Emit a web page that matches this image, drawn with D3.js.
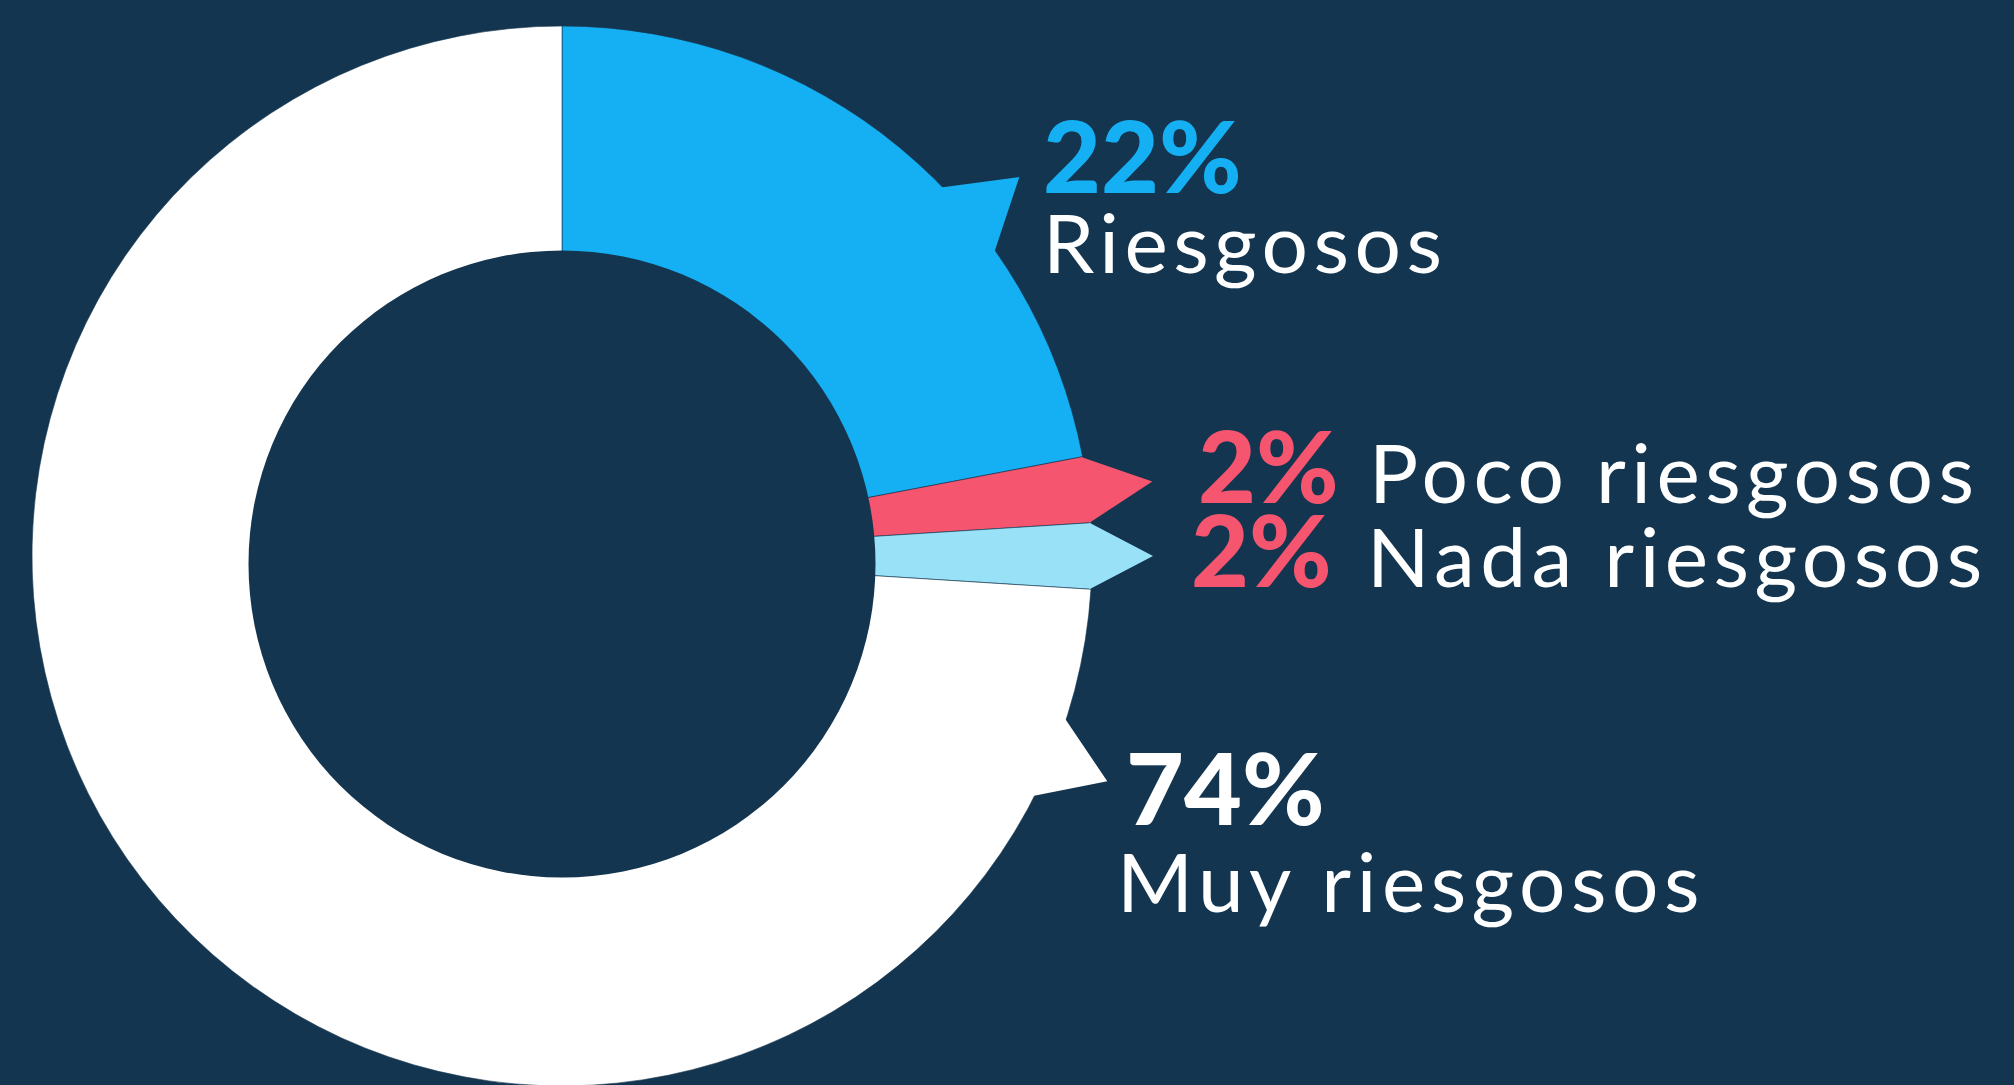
<!DOCTYPE html>
<html>
<head>
<meta charset="utf-8">
<script src="https://d3js.org/d3.v7.min.js"></script>
<style>
  html, body { margin: 0; padding: 0; background: #14354f; overflow: hidden; }
  .pct { font-family: Lato, "Open Sans", sans-serif; font-weight: 900; }
  .name { font-family: Lato, "Open Sans", sans-serif; font-weight: 400; fill: #ffffff; }
</style>
</head>
<body>
<div id="vis"></div>
<script>
// Data
var categories = ['Riesgosos', 'Poco riesgosos', 'Nada riesgosos', 'Muy riesgosos'];
var values = [22, 2, 2, 74];
var sliceColors = ['#15b0f4', '#f5556f', '#98e1f6', '#ffffff'];
var pctColors = ['#15b0f4', '#f5556f', '#f5556f', '#ffffff'];

// Sizing
var width = 2014;
var height = 1085;
var center = { x: 562, y: 556 };
var outerR = 530;
// the hole in the original sits a little lower than the ring's centre
var hole = { x: 562, y: 564, r: 313.5 };
var bg = '#14354f';

// Little arrow on the rim of each slice. span in degrees (null = whole slice),
// tip is the radius of the point.
var pointerSpan = [[45.8, 54.9], null, null, [107.9, 117.0]];
var pointerTip = [594, 595, 591, 590];

// Label anchors (percent and name), baseline positions
var pctPos = [[1043, 193], [1198, 503], [1191, 587], [1126, 825]];
var namePos = [[1043, 273], [1369, 503], [1367, 587], [1117, 912]];

var svg = d3.select('#vis')
  .append('svg')
  .attr('width', width)
  .attr('height', height);

svg.append('rect')
  .attr('width', width)
  .attr('height', height)
  .attr('fill', bg);

var pie = d3.pie()
  .sort(null)
  .value(function (d) { return d; });

var arc = d3.arc()
  .innerRadius(0)
  .outerRadius(outerR);

var arcs = pie(values);

var g = svg.append('g')
  .attr('transform', 'translate(' + center.x + ',' + center.y + ')');

g.selectAll('.slice')
  .data(arcs)
  .enter().append('path')
  .attr('class', 'slice')
  .attr('d', arc)
  .attr('fill', function (d, i) { return sliceColors[i]; })
  .attr('stroke', bg)
  .attr('stroke-width', 0.6);

// pointers: triangle from two rim points to a tip at the mid angle
var rad = Math.PI / 180;
g.selectAll('.pointer')
  .data(arcs)
  .enter().append('path')
  .attr('class', 'pointer')
  .attr('fill', function (d, i) { return sliceColors[i]; })
  .attr('d', function (d, i) {
    var a0 = pointerSpan[i] ? pointerSpan[i][0] * rad : d.startAngle;
    var a1 = pointerSpan[i] ? pointerSpan[i][1] * rad : d.endAngle;
    var p0 = d3.pointRadial(a0, outerR - 1.5);
    var p1 = d3.pointRadial(a1, outerR - 1.5);
    var tip = d3.pointRadial((a0 + a1) / 2, pointerTip[i]);
    return 'M' + p0 + 'L' + tip + 'L' + p1 + 'Z';
  });

// the donut hole
svg.append('circle')
  .attr('cx', hole.x)
  .attr('cy', hole.y)
  .attr('r', hole.r)
  .attr('fill', bg);

// labels
var labels = svg.selectAll('.label')
  .data(categories)
  .enter().append('g')
  .attr('class', 'label');

labels.append('text')
  .attr('class', 'pct')
  .attr('x', function (d, i) { return pctPos[i][0]; })
  .attr('y', function (d, i) { return pctPos[i][1]; })
  .attr('font-size', 100)
  .attr('fill', function (d, i) { return pctColors[i]; })
  .text(function (d, i) { return values[i] + '%'; });

labels.append('text')
  .attr('class', 'name')
  .attr('x', function (d, i) { return namePos[i][0]; })
  .attr('y', function (d, i) { return namePos[i][1]; })
  .attr('font-size', 82)
  .attr('letter-spacing', 5.5)
  .text(function (d) { return d; });
</script>
</body>
</html>
